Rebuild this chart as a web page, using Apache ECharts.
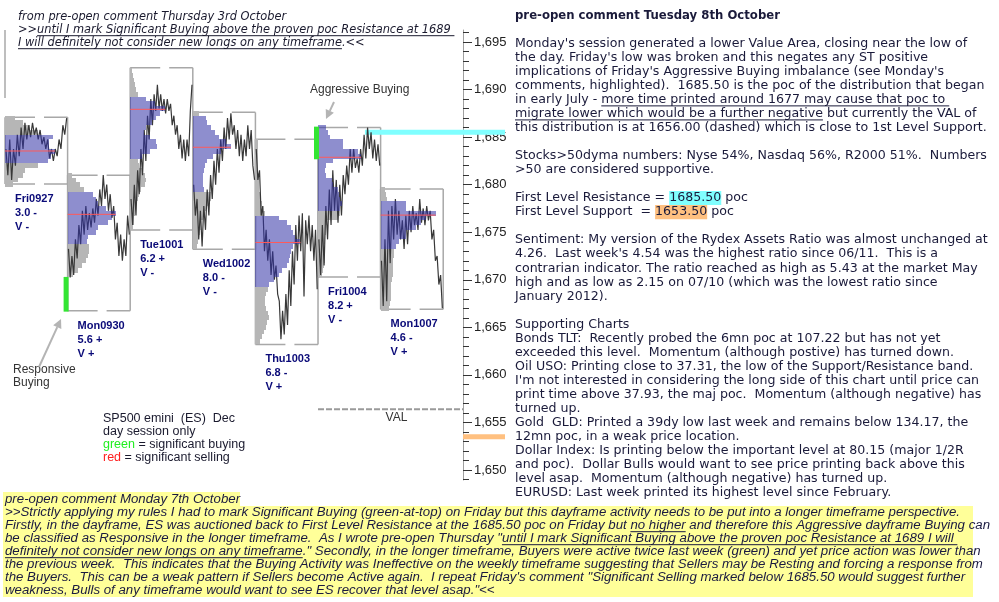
<!DOCTYPE html>
<html><head><meta charset="utf-8">
<script src="https://cdn.jsdelivr.net/npm/echarts@6/dist/echarts.min.js"></script>
<style>html,body{margin:0;padding:0;background:#fff}#c{width:999px;height:602px}</style>
</head><body><div id="c"></div><script>
// ---------- DATA ----------
const days = ['Fri0927','Mon0930','Tue1001','Wed1002','Thu1003','Fri1004','Mon1007'];
const dayStat1 = ['3.0 -','5.6 +','6.2 +','8.0 -','6.8 -','8.2 +','4.6 -'];
const dayStat2 = ['V -','V +','V -','V -','V +','V -','V +'];
const dayLow  = [1680.07,1666.75,1675.23,1673.2,1663.2,1670.3,1666.89];
const dayHigh = [1687.1,1681.0,1692.3,1687.6,1684.77,1686.0,1679.54];
// value area [low, high] and poc per day
const vaRange = [[1682.49,1685.43],[1673.65,1679.44],[1682.9,1689.25],[1679.12,1687.0],[1669.45,1676.5],[1677.4,1686.0],[1673.3,1678.1]];
const pocPrice = [1683.54,1676.88,1687.92,1683.93,1673.92,1682.88,1676.8];
// volume profile rows (0.5 pt each), starting at profStart, listed low -> high
const profStart = [1680.0,1670.5,1675.5,1673.5,1663.5,1670.5,1667.0];
const profVol = [
 [8,13,18,20,33,43,46,50,44,44,48,33,25,18,10],
 [5,10,14,18,20,21,21,19,20,28,30,40,44,48,38,30,28,25,16,12,8,4],
 [3,4,4,5,5,6,8,9,11,15,16,15,12,9,8,12,20,27,26,20,14,16,22,26,30,35,25,16,8,6,5,4,3,2],
 [4,5,6,7,8,8,10,12,13,16,18,18,11,10,10,10,11,12,14,20,28,38,33,26,22,18,14,13,6],
 [5,7,9,11,12,14,13,11,10,10,11,13,14,19,24,27,32,34,35,36,38,45,40,38,36,32,24,10,8,7,6,5,4,4,4,4,3,3,3,3,3,3,3],
 [4,5,6,7,7,6,6,7,7,8,8,9,20,22,22,24,22,21,20,15,14,8,7,8,15,43,40,25,25,12,10,8],
 [8,9,10,10,10,10,11,12,12,12,12,13,13,15,18,25,25,35,40,45,55,25,25,6,5,4]
];
// intraday price path per day (alternating swing highs / lows)
const priceDays = [
 [1683.75,1681,1684.75,1680.5,1683.75,1682,1685.25,1683,1686,1683.75,1686.5,1684.75,1686.25,1685,1686.5,1685.25,1686,1684.75,1685.75,1684.25,1685,1683.75,1684.75,1682.75,1683.75,1682.5,1683.75,1683,1684.75,1683.75,1686.25,1685.25,1687],
 [1673.25,1670.25,1672.5,1670.5,1674.25,1672.25,1675.75,1673.75,1677.25,1674.75,1677.75,1675.25,1677,1675.5,1677.5,1676,1678.5,1676.75,1679.5,1677.75,1681,1678.5,1680,1677.25,1679,1676.5,1677.75,1674.25,1676,1672.5,1674.75,1672,1674.25,1672.5,1676.75,1674.75],
 [1678.5,1675.75,1680,1676.75,1681.5,1679,1683.75,1681,1685.75,1682.5,1687.25,1684.75,1689,1686.25,1689.5,1687.75,1690.5,1688,1689.5,1687.75,1689,1687.5,1689,1687.75,1688.5,1686.25,1687.25,1685.25,1686.25,1683.75,1685.25,1682.75,1684.75,1682.5,1684.75,1683,1687.75,1690.5],
 [1680,1676.75,1678.5,1674.25,1677.25,1673.5,1677.75,1675.25,1679.5,1676.75,1681,1678.5,1682.5,1680,1683.75,1681.25,1684.75,1682.5,1686,1683.75,1687,1684.75,1687.5,1685.25,1686.25,1683.75,1685.75,1683,1685.25,1682.5,1684.75,1683,1686.25,1683.75,1685.75,1682,1680.5],
 [1683.75,1680.5,1681.5,1676.75,1677.75,1673,1675.25,1672,1674.25,1670.5,1673,1670,1671.5,1668.5,1667.75,1663.75,1666.75,1664.25,1668.5,1665.25,1671,1667.25,1673,1669.5,1675.75,1672,1676.75,1673,1677,1668.25,1676.25,1673.75,1676.75,1673,1675.75,1672,1675.25,1669],
 [1674.25,1670.5,1675.75,1671.5,1677.75,1674.25,1679.5,1675.75,1681.5,1677.25,1680.5,1676,1680,1676.75,1681,1679,1682,1680,1683.75,1681.25,1683.75,1681.75,1682.75,1681.25,1683.75,1682,1685.25,1682.75,1686,1683.75,1685.5,1682.75,1684.75,1682.5,1684.25,1682],
 [1672,1667.25,1674.25,1667.75,1677.25,1671.75,1677.75,1674.25,1678.5,1674.75,1677.25,1674.25,1676.25,1673.25,1676.75,1673.75,1677.25,1675,1677.75,1675.75,1677,1675.25,1678.5,1676,1677.5,1675.75,1677.75,1676.25,1677.25,1674.25,1675.25,1672,1672.5,1669.5,1670.5,1667]
];
// significant buying marks [day, low, high]
const sigBuying = [[1,1666.65,1670.3],[5,1682.67,1686.1]];
const resistanceLevel = [[5.75,1685.5]];   // cyan: 1685.50 poc
const supportLevel = [[7.316,1653.5]];     // orange: 1653.50 poc
const valLevel = [[5.0,1656.4]];           // VAL dashed
const prevDayEdge = [[0,1689.1,1696.26]];  // right edge of previous day's range (Thu0926)
const majorTicks = [1650,1655,1660,1665,1670,1675,1680,1685,1690,1695];
const minorTicks = [1649,1651,1652,1653,1654,1656,1657,1658,1659,1661,1662,1663,1664,1666,1667,1668,1669,1671,1672,1673,1674,1676,1677,1678,1679,1681,1682,1683,1684,1686,1687,1688,1689,1691,1692,1693,1694,1696];

// ---------- TEXTS ----------
const noteLines = [
 ["from pre-open comment Thursday 3rd October"],
 [">>", {t:"until I mark Significant Buying above the proven poc Resistance at 1689 ", u:1}],
 [{t:"I will definitely not consider new longs on any timeframe", u:1}, ".<<"]
];
const legendLines = [
 ["SP500 emini  (ES)  Dec"],
 ["day session only"],
 [{t:"green", c:"#22ee22"}, " = significant buying"],
 [{t:"red", c:"#ff2020"}, " = significant selling"]
];
const rightLines = [
 [{t:'pre-open comment Tuesday 8th October', b:1}],
 null,
 ["Monday's session generated a lower Value Area, closing near the low of"],
 ["the day. Friday's low was broken and this negates any ST positive"],
 ["implications of Friday's Aggressive Buying imbalance (see Monday's"],
 ["comments, highlighted).  1685.50 is the poc of the distribution that began"],
 ["in early July - ", {t:"more time printed around 1677 may cause that poc to ", u:1}],
 [{t:"migrate lower which would be a further negative", u:1}, " but currently the VAL of"],
 ["this distribution is at 1656.00 (dashed) which is close to 1st Level Support."],
 null,
 ["Stocks>50dyma numbers: Nyse 54%, Nasdaq 56%, R2000 51%.  Numbers"],
 [">50 are considered supportive."],
 null,
 ["First Level Resistance = ", {t:"1685.50", bg:'#80ffff'}, " poc"],
 ["First Level Support  = ", {t:"1653.50", bg:'#ffc080'}, " poc"],
 null,
 ["Sentiment: My version of the Rydex Assets Ratio was almost unchanged at"],
 ["4.26.  Last week's 4.54 was the highest ratio since 06/11.  This is a"],
 ["contrarian indicator. The ratio reached as high as 5.43 at the market May"],
 ["high and as low as 2.15 on 07/10 (which was the lowest ratio since"],
 ["January 2012)."],
 null,
 ["Supporting Charts"],
 ["Bonds TLT:  Recently probed the 6mn poc at 107.22 but has not yet"],
 ["exceeded this level.  Momentum (although postive) has turned down."],
 ["Oil USO: Printing close to 37.31, the low of the Support/Resistance band."],
 ["I'm not interested in considering the long side of this chart until price can"],
 ["print time above 37.93, the maj poc.  Momentum (although negative) has"],
 ["turned up."],
 ["Gold  GLD: Printed a 39dy low last week and remains below 134.17, the"],
 ["12mn poc, in a weak price location."],
 ["Dollar Index: Is printing below the important level at 80.15 (major 1/2R"],
 ["and poc).  Dollar Bulls would want to see price printing back above this"],
 ["level asap.  Momentum (although negative) has turned up."],
 ["EURUSD: Last week printed its highest level since February."]
];
const bottomHeader = [["pre-open comment Monday 7th October"]];
const bottomLines = [
 [">>Strictly applying my rules I had to mark Significant Buying (green-at-top) on Friday but this dayframe activity needs to be put into a longer timeframe perspective."],
 ["Firstly, in the dayframe, ES was auctioned back to First Level Resistance at the 1685.50 poc on Friday but ", {t:"no higher", u:1}, " and therefore this Aggressive dayframe Buying can"],
 ["be classified as Responsive in the longer timeframe.  As I wrote pre-open Thursday \"", {t:"until I mark Significant Buying above the proven poc Resistance at 1689 I will ", u:1}],
 [{t:"definitely not consider new longs on any timeframe", u:1}, ".\" Secondly, in the longer timeframe, Buyers were active twice last week (green) and yet price action was lower than"],
 ["the previous week.  This indicates that the Buying Activity was Ineffective on the weekly timeframe suggesting that Sellers may be Resting and forcing a response from"],
 ["the Buyers.  This can be a weak pattern if Sellers become Active again.  I repeat Friday's comment \"Significant Selling marked below 1685.50 would suggest further"],
 ["weakness, Bulls of any timeframe would want to see ES recover that level asap.\"<<"]
];

// ---------- BUILD ----------
const X_MAX = 7.316, PROFILE_UNITS_PER_DAY = 62.6;
const grayRows = [], blueRows = [];
profVol.forEach((vols, d) => vols.forEach((v, i) => {
  const p = profStart[d] + i * 0.5;
  (p >= vaRange[d][0] && p <= vaRange[d][1] ? blueRows : grayRows).push([d, p, v]);
}));
const pocData = pocPrice.map((p, d) => [d, p, Math.max.apply(null, profVol[d])]);
const priceData = [];
priceDays.forEach((arr, d) => { arr.forEach((p, k) => priceData.push([d + (k + 0.5) / arr.length, p])); priceData.push([d + 1, '-']); });
const boxData = days.map((n, d) => [d, dayLow[d], dayHigh[d]]);
const labelData = days.map((n, d) => [d, dayLow[d]]);

const meas = document.createElement('canvas').getContext('2d');
function tw(t, font) { meas.font = font; return meas.measureText(t).width; }
const G = [];
function textBlock(x, y0, lh, font, color, lines, opt) {
  opt = opt || {};
  const sx = opt.sx || 1;
  lines.forEach((segs, i) => {
    if (!segs) return;
    let cx = x; const y = y0 + i * lh;
    segs.forEach(s => {
      if (typeof s === 'string') s = {t: s};
      const f = s.b ? opt.boldFont : font;
      const w = tw(s.t, f) * sx;
      if (s.bg) G.push({type:'rect', z:5, shape:{x:cx, y:y - lh/2, width:w, height:lh}, style:{fill:s.bg}});
      G.push({type:'text', z:10, x:cx, y:y, scaleX:sx, style:{text:s.t, font:f, fill:s.c || color, align:'left', verticalAlign:'middle', textAlign:'left', textVerticalAlign:'middle'}});
      if (s.u) G.push({type:'line', z:10, shape:{x1:cx, y1:y + (opt.uoff||6), x2:cx + w, y2:y + (opt.uoff||6)}, style:{stroke:color, lineWidth:1}});
      cx += w;
    });
  });
}
function arrow(x1, y1, x2, y2) {
  const a = Math.atan2(y2 - y1, x2 - x1), L = 9, W = 4.5;
  const bx = x2 - L * Math.cos(a), by = y2 - L * Math.sin(a);
  G.push({type:'line', z:10, shape:{x1, y1, x2:bx, y2:by}, style:{stroke:'#b4b4b4', lineWidth:2}});
  G.push({type:'polygon', z:10, shape:{points:[[x2, y2], [bx + W*Math.sin(a), by - W*Math.cos(a)], [bx - W*Math.sin(a), by + W*Math.cos(a)]]}, style:{fill:'#b4b4b4'}});
}
// yellow boxes
G.push({type:'rect', z:1, shape:{x:3, y:492, width:237, height:14}, style:{fill:'#ffff99'}});
G.push({type:'rect', z:1, shape:{x:3, y:506, width:970, height:91}, style:{fill:'#ffff99'}});

const noteFont = 'italic 11.4px "DejaVu Sans"';
textBlock(18, 16.7, 13, noteFont, '#1a1a2e', noteLines, {uoff:6});
textBlock(103, 418.3, 13, '12.5px "Liberation Sans"', '#1a1a2e', legendLines);
textBlock(515, 15.7, 14.03, '12.6px "DejaVu Sans"', '#1a1a3a', rightLines, {boldFont:'bold 11.7px "DejaVu Sans"', uoff:6});
const botFont = 'italic 12px "Liberation Sans"';
const botScale = 955 / tw(bottomLines[0][0], botFont);
textBlock(5, 499.5, 13, botFont, '#1a1a40', bottomHeader, {sx:botScale});
textBlock(5, 512.7, 13, botFont, '#1a1a40', bottomLines, {sx:botScale, uoff:6});
G.push({type:'text', z:10, x:310, y:90, style:{text:'Aggressive Buying', font:'12px "Liberation Sans"', fill:'#333', verticalAlign:'middle', textVerticalAlign:'middle'}});
G.push({type:'text', z:10, x:13, y:376, style:{text:'Responsive\nBuying', font:'12px "Liberation Sans"', fill:'#333', verticalAlign:'middle', textVerticalAlign:'middle', lineHeight:13.3}});
arrow(334, 102, 326, 119);
arrow(39, 367, 61, 319);

function rowRender(color) {
  return function (params, api) {
    const d = api.value(0), p = api.value(1), v = api.value(2);
    const a = api.coord([d, p + 0.25]), b = api.coord([d, p - 0.25]);
    const w = v * api.size([1, 0])[0] / PROFILE_UNITS_PER_DAY;
    const y0 = Math.round(a[1]), y1 = Math.round(b[1]), x0 = Math.round(a[0]);
    return {type:'rect', shape:{x:x0, y:y0, width:Math.round(w), height:y1 - y0}, style:{fill:color}};
  };
}

const chart = echarts.init(document.getElementById('c'), null, {renderer:'canvas'});
chart.setOption({
  animation:false,
  backgroundColor:'#fff',
  grid:{left:5, right:536, top:30, bottom:122, outerBoundsMode:'none'},
  xAxis:{type:'value', min:0, max:X_MAX, show:false, axisLine:{onZero:false}},
  yAxis:[
    {type:'value', position:'right', min:1648.95, max:1696.26, splitLine:{show:false},
     axisLine:{show:true, onZero:false, lineStyle:{color:'#a0a0a0', width:1}},
     axisTick:{show:true, customValues:majorTicks, length:9, lineStyle:{color:'#333'}},
     axisLabel:{show:true, customValues:majorTicks, margin:11, color:'#222', fontFamily:'Liberation Sans', fontSize:13,
       formatter:v => v.toLocaleString('en-US')}},
    {type:'value', position:'right', offset:0, min:1648.95, max:1696.26, splitLine:{show:false},
     axisLine:{show:false, onZero:false}, axisLabel:{show:false},
     axisTick:{show:true, customValues:minorTicks, length:6, lineStyle:{color:'#333'}}}
  ],
  series:[
    {type:'custom', name:'day range', z:1, data:boxData, renderItem:(params, api) => {
      const d = api.value(0), lo = api.value(1), hi = api.value(2);
      const tl = api.coord([d, hi]), br = api.coord([d + 1, lo]);
      const st = {stroke:'#a8a8a8', lineWidth:1.5};
      const dash = {stroke:'#a8a8a8', lineWidth:1.5, lineDash:[30, 9]};
      return {type:'group', children:[
        {type:'line', shape:{x1:tl[0], y1:tl[1], x2:br[0], y2:tl[1]}, style:dash},
        {type:'line', shape:{x1:tl[0], y1:br[1], x2:br[0], y2:br[1]}, style:dash},
        {type:'line', shape:{x1:tl[0], y1:tl[1], x2:tl[0], y2:br[1]}, style:st},
        {type:'line', shape:{x1:br[0], y1:tl[1], x2:br[0], y2:br[1]}, style:st}
      ]};
    }},
    {type:'custom', name:'previous day', z:1, data:prevDayEdge, renderItem:(params, api) => {
      const a = api.coord([api.value(0), api.value(1)]), b = api.coord([api.value(0), api.value(2)]);
      return {type:'line', shape:{x1:a[0], y1:a[1], x2:b[0], y2:b[1]}, style:{stroke:'#a8a8a8', lineWidth:1.5}};
    }},
    {type:'custom', name:'profile', z:2, data:grayRows, renderItem:rowRender('#b6b6b6')},
    {type:'custom', name:'support', z:2, clip:false, data:supportLevel, renderItem:(params, api) => {
      const c = api.coord([api.value(0), api.value(1)]);
      return {type:'rect', shape:{x:c[0], y:c[1] - 2.5, width:42, height:5}, style:{fill:'#ffc080'}};
    }},
    {type:'custom', name:'resistance', z:2, clip:false, data:resistanceLevel, renderItem:(params, api) => {
      const c = api.coord([api.value(0), api.value(1)]);
      const end = params.coordSys.x + params.coordSys.width + 42;
      return {type:'rect', shape:{x:c[0], y:c[1] - 2.5, width:end - c[0], height:5}, style:{fill:'#80ffff'}};
    }},
    {type:'line', name:'ES', z:3, data:priceData, showSymbol:false, symbol:'none', connectNulls:false,
     lineStyle:{color:'#383838', width:1.2}},
    {type:'custom', name:'value area', z:4, data:blueRows, renderItem:rowRender('rgba(50,50,165,0.55)')},
    {type:'custom', name:'poc', z:5, data:pocData, renderItem:(params, api) => {
      const d = api.value(0), p = api.value(1), v = api.value(2);
      const a = api.coord([d, p]);
      const w = v * api.size([1, 0])[0] / PROFILE_UNITS_PER_DAY;
      return {type:'line', shape:{x1:a[0], y1:a[1], x2:a[0] + w, y2:a[1]}, style:{stroke:'#ff5a5a', lineWidth:1}};
    }},
    {type:'custom', name:'significant buying', z:5, clip:false, data:sigBuying, renderItem:(params, api) => {
      const d = api.value(0), lo = api.coord([d, api.value(1)]), hi = api.coord([d, api.value(2)]);
      return {type:'rect', shape:{x:lo[0] - 4, y:hi[1], width:5, height:lo[1] - hi[1]}, style:{fill:'#33e533'}};
    }},
    {type:'custom', name:'VAL', z:5, clip:false, data:valLevel, renderItem:(params, api) => {
      const c = api.coord([api.value(0), api.value(1)]);
      const end = params.coordSys.x + params.coordSys.width;
      return {type:'group', children:[
        {type:'line', shape:{x1:c[0], y1:c[1], x2:end, y2:c[1]}, style:{stroke:'#9a9a9a', lineWidth:2, lineDash:[6, 2]}},
        {type:'text', x:(c[0] + end) / 2 + 6, y:c[1] + 9, style:{text:'VAL', font:'12px "Liberation Sans"', fill:'#333', align:'center', verticalAlign:'middle', textAlign:'center', textVerticalAlign:'middle'}}
      ]};
    }},
    {type:'custom', name:'day labels', z:6, clip:false, data:labelData, renderItem:(params, api) => {
      const d = api.value(0), c = api.coord([d, api.value(1)]);
      return {type:'text', x:c[0] + 10, y:c[1] + 8, style:{text:days[d] + '\n' + dayStat1[d] + '\n' + dayStat2[d],
        font:'bold 11px "Liberation Sans"', fill:'#0a0a78', lineHeight:14, align:'left', verticalAlign:'top', textAlign:'left', textVerticalAlign:'top'}};
    }}
  ],
  graphic:{elements:G}
});
</script></body></html>
